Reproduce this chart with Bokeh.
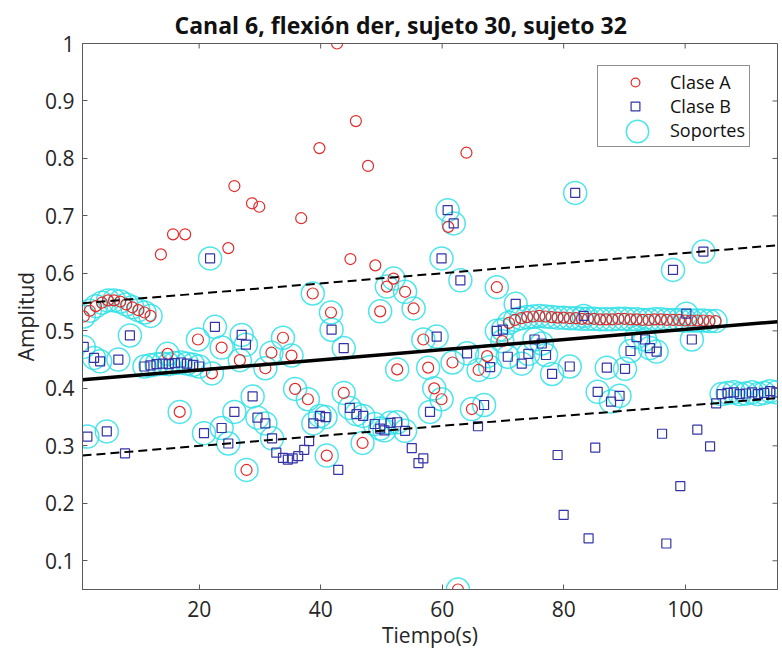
import math
from bokeh.plotting import figure
from bokeh.models import Range1d, FixedTicker, Legend, LegendItem
from bokeh.embed import file_html
from bokeh.resources import INLINE

# ---------------- data ----------------
title_text = "Canal 6, flexión der, sujeto 30, sujeto 32"
x_label = "Tiempo(s)"
y_label = "Amplitud"
x_ticks = [20, 40, 60, 80, 100]
y_ticks = [0.1, 0.2, 0.3, 0.4, 0.5, 0.6, 0.7, 0.8, 0.9, 1.0]
y_tick_labels = {0.1: "0.1", 0.2: "0.2", 0.3: "0.3", 0.4: "0.4", 0.5: "0.5",
                 0.6: "0.6", 0.7: "0.7", 0.8: "0.8", 0.9: "0.9", 1.0: "1"}
x_min, x_max = 0.8, 115.2
y_min, y_max = 0.05, 1.0

# Clase A (red circles) - points that are not support vectors
a_x = [42.7, 45.8, 39.8, 47.8, 64.0, 25.8, 28.7, 29.9, 36.8, 15.7, 17.7, 13.7,
       24.8, 44.9, 49.0, 61.0]
a_y = [1.0, 0.865, 0.818, 0.787, 0.81, 0.752, 0.722, 0.716, 0.696, 0.668, 0.668,
       0.633, 0.644, 0.625, 0.614, 0.681]

# Clase A - support vectors
a_sv_x = [1, 2, 3, 4, 5, 6, 7, 8, 9, 10, 11, 12,
          38.7, 41.7, 49.8, 50.9, 52.0, 53.9, 55.3, 69.0,
          19.8, 23.7, 14.8, 22.1, 26.7, 16.8, 30.9, 31.9, 33.8, 35.2, 35.8, 37.9,
          43.8, 41.0, 46.9, 27.8, 52.6, 56.9, 57.7, 61.7, 67.4, 66.0, 69.9, 58.7,
          59.9, 64.9, 62.6,
          71, 72, 73, 74, 75, 76, 77, 78, 79, 80, 81, 82, 83, 84, 85, 86, 87, 88,
          89, 90, 91, 92, 93, 94, 95, 96, 97, 98, 99, 100, 101, 102, 103, 104, 105]
a_sv_y = [0.525, 0.535, 0.543, 0.549, 0.553, 0.553, 0.551, 0.546, 0.541, 0.536, 0.532, 0.526,
          0.565, 0.532, 0.534, 0.577, 0.591, 0.568, 0.539, 0.576,
          0.485, 0.471, 0.46, 0.426, 0.449, 0.359, 0.435, 0.462, 0.488, 0.457, 0.399, 0.381,
          0.392, 0.283, 0.305, 0.258, 0.433, 0.485, 0.436, 0.445, 0.456, 0.432, 0.482, 0.40,
          0.381, 0.364, 0.05,
          0.514, 0.519, 0.522, 0.524, 0.525, 0.526, 0.525, 0.524, 0.523, 0.523, 0.522, 0.522,
          0.521, 0.521, 0.521, 0.520, 0.520, 0.520, 0.521, 0.521, 0.520, 0.520, 0.519, 0.519,
          0.520, 0.520, 0.519, 0.519, 0.519, 0.518, 0.518, 0.518, 0.518, 0.517, 0.517]

# Clase B (blue squares) - points that are not support vectors
b_x = [7.8, 32.7, 33.8, 34.6, 35.4, 36.3, 37.3, 38.1, 42.9, 55.0, 56.1, 56.9, 65.9,
       79.0, 80.0, 84.1, 85.2, 96.2, 96.9, 99.2, 102.0, 104.1, 105.1]
b_y = [0.287, 0.288, 0.279, 0.276, 0.278, 0.282, 0.293, 0.308, 0.258, 0.296, 0.27, 0.278,
       0.334, 0.284, 0.18, 0.139, 0.297, 0.321, 0.13, 0.23, 0.328, 0.299, 0.374]

# Clase B - support vectors
b_sv_x = [60.9, 61.9, 81.9, 59.9, 63.0, 103.0, 98.0, 72.1, 21.8, 83.3, 100.2,
          41.8, 43.8, 22.6, 27.0, 27.7, 8.6, 1.0, 2.7, 3.7, 6.7,
          11, 12, 13, 14, 15, 16, 17, 18, 19, 20,
          1.6, 4.8, 20.8, 23.7, 24.8, 25.8, 28.8, 29.6, 30.9, 32.0, 38.8, 39.9, 40.8,
          44.8, 45.9, 47.0, 48.9, 49.8, 50.5, 51.5, 52.6, 53.9, 58.0, 59.1, 64.1, 67.9,
          69.0, 70.0, 70.8, 73.1, 74.2, 75.2, 76.4, 77.1, 78.1, 81.0, 66.9, 85.6, 87.1,
          90.1, 87.8, 89.2, 91.0, 92.0, 93.4, 94.2, 95.3, 101.1,
          106, 107, 108, 109, 110, 111, 112, 113, 114, 115]
b_sv_y = [0.71, 0.687, 0.74, 0.626, 0.588, 0.638, 0.606, 0.547, 0.626, 0.526, 0.53,
          0.502, 0.47, 0.507, 0.493, 0.476, 0.492, 0.472, 0.453, 0.447, 0.45,
          0.438, 0.44, 0.442, 0.443, 0.442, 0.444, 0.445, 0.443, 0.441, 0.438,
          0.316, 0.325, 0.322, 0.331, 0.304, 0.359, 0.386, 0.349, 0.339, 0.313, 0.339,
          0.352, 0.35, 0.366, 0.355, 0.352, 0.338, 0.33, 0.327, 0.34, 0.341, 0.326,
          0.359, 0.49, 0.461, 0.437, 0.5, 0.502, 0.455, 0.443, 0.46, 0.485, 0.478,
          0.458, 0.425, 0.438, 0.371, 0.394, 0.436, 0.434, 0.377, 0.387, 0.465, 0.489,
          0.485, 0.47, 0.464, 0.485,
          0.39, 0.392, 0.393, 0.39, 0.391, 0.393, 0.39, 0.392, 0.395, 0.393]

# separating line and margins
line_x = [x_min, x_max]
decision_y = [0.415, 0.516]
upper_margin_y = [0.548, 0.649]
lower_margin_y = [0.283, 0.383]

# ---------------- styles ----------------
RED = "#e02a2a"
BLUE = "#3434a8"
CYAN = "#2ee0e6"
AXIS_C = "#5a5a5a"
TXT_C = "#262626"
FONT = "Open Sans"

p = figure(width=782, height=657, output_backend="svg", toolbar_location=None,
           x_range=Range1d(x_min, x_max), y_range=Range1d(y_min, y_max),
           min_border_left=82, min_border_right=5, min_border_top=43,
           min_border_bottom=68)

p.title.text = title_text
p.title.align = "left"
p.title.offset = 92
p.title.text_font = FONT
p.title.text_font_style = "bold"
p.title.text_font_size = "23px"
p.title.text_color = "#111111"
p.title.standoff = 6

p.grid.visible = False
p.outline_line_color = AXIS_C
p.outline_line_width = 1
p.background_fill_color = "white"
p.border_fill_color = "white"

for ax in (p.xaxis[0], p.yaxis[0]):
    ax.axis_line_color = AXIS_C
    ax.major_tick_line_color = AXIS_C
    ax.major_tick_in = 5
    ax.major_tick_out = 0
    ax.minor_tick_line_color = None
    ax.major_label_text_font = FONT
    ax.major_label_text_font_size = "21px"
    ax.major_label_text_color = TXT_C
    ax.axis_label_text_font = FONT
    ax.axis_label_text_font_size = "21px"
    ax.axis_label_text_font_style = "normal"
    ax.axis_label_text_color = TXT_C

p.xaxis[0].ticker = FixedTicker(ticks=x_ticks)
p.yaxis[0].ticker = FixedTicker(ticks=y_ticks)
p.yaxis[0].major_label_overrides = y_tick_labels
p.xaxis[0].axis_label = x_label
p.yaxis[0].axis_label = y_label
p.xaxis[0].major_label_standoff = 11
p.yaxis[0].major_label_standoff = 8
p.xaxis[0].axis_label_standoff = 1
p.yaxis[0].axis_label_standoff = 2

# inward tick marks on the top and right edges of the box (clipped to the frame)
p.scatter(x_ticks, [y_max] * len(x_ticks), marker="dash", angle=math.pi / 2,
          size=10, line_color=AXIS_C, line_width=1)
p.scatter([x_max] * len(y_ticks), y_ticks, marker="dash",
          size=10, line_color=AXIS_C, line_width=1)

# support vectors (cyan rings)
sv_x = a_sv_x + b_sv_x
sv_y = a_sv_y + b_sv_y
r_sv = p.scatter(sv_x, sv_y, marker="circle", size=23, fill_color=None,
                 line_color=CYAN, line_width=1.5, line_alpha=0.85)

# classes
r_a = p.scatter(a_x + a_sv_x, a_y + a_sv_y, marker="circle", size=11,
                fill_color=None, line_color=RED, line_width=1.2)
r_b = p.scatter(b_x + b_sv_x, b_y + b_sv_y, marker="square", size=9,
                fill_color=None, line_color=BLUE, line_width=1.2)

# boundary and margins
p.line(line_x, decision_y, line_color="black", line_width=3.5)
p.line(line_x, upper_margin_y, line_color="black", line_width=2, line_dash="9 5")
p.line(line_x, lower_margin_y, line_color="black", line_width=2, line_dash="9 5")

# legend
r_dummy = p.scatter(x=[], y=[], marker="circle", size=1, fill_alpha=0, line_alpha=0)
legend = Legend(items=[LegendItem(label="Clase A", renderers=[r_a]),
                       LegendItem(label="Clase B", renderers=[r_b]),
                       LegendItem(label="Soportes", renderers=[r_dummy])],
                location=(515, 442), orientation="vertical",
                glyph_width=66, glyph_height=22, label_height=22,
                label_standoff=2, spacing=0, padding=4, margin=0,
                label_text_font=FONT, label_text_font_size="18px",
                label_text_color="#111111",
                border_line_color="#222222", border_line_width=1,
                background_fill_color="white", background_fill_alpha=1.0)
p.add_layout(legend)

legend_sv = Legend(items=[LegendItem(label=" ", renderers=[r_sv])],
                   location=(527, 430), glyph_width=56, glyph_height=56,
                   label_width=0, label_standoff=0, padding=0, margin=0,
                   label_text_font_size="1px",
                   border_line_color=None, background_fill_alpha=0)
p.add_layout(legend_sv)

open("out.html", "w").write(file_html(p, INLINE))
